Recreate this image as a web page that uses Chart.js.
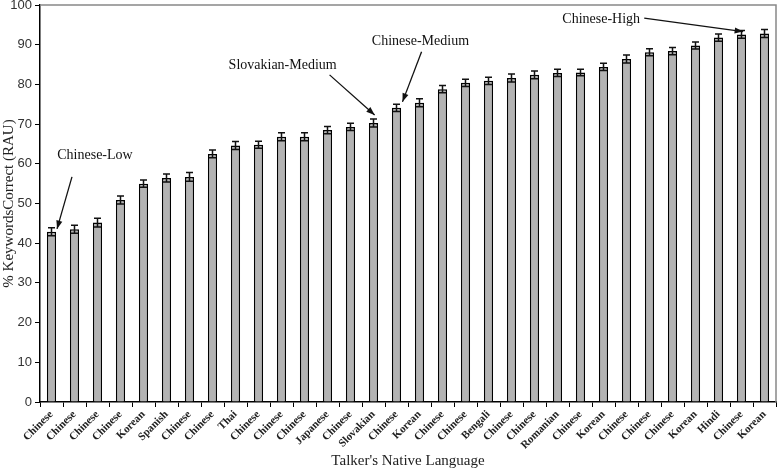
<!DOCTYPE html>
<html>
<head>
<meta charset="utf-8">
<script src="https://cdn.jsdelivr.net/npm/chart.js@4/dist/chart.umd.min.js"></script>
<style>
  body { margin: 0; background: #fff; }
  canvas { display: block; }
</style>
</head>
<body>
<canvas id="keywordsChart" width="777" height="470"></canvas>
<script>
const languages = [
  'Chinese', 'Chinese', 'Chinese', 'Chinese', 'Korean', 'Spanish', 'Chinese', 'Chinese',
  'Thai', 'Chinese', 'Chinese', 'Chinese', 'Japanese', 'Chinese', 'Slovakian', 'Chinese',
  'Korean', 'Chinese', 'Chinese', 'Bengali', 'Chinese', 'Chinese', 'Romanian', 'Chinese',
  'Korean', 'Chinese', 'Chinese', 'Chinese', 'Korean', 'Hindi', 'Chinese', 'Korean'
];
const keywordsCorrect = [
  42.9, 43.5, 45.2, 50.9, 55.0, 56.4, 56.7, 62.5,
  64.6, 64.8, 66.8, 66.8, 68.5, 69.3, 70.3, 74.1,
  75.4, 78.8, 80.4, 80.9, 81.6, 82.4, 82.9, 83.0,
  84.4, 86.4, 88.1, 88.4, 89.8, 91.8, 92.6, 92.8
];
const stdErrors = [
  1.0, 1.0, 1.1, 1.0, 0.9, 1.0, 1.1, 1.0,
  1.0, 0.9, 1.0, 1.0, 0.9, 0.9, 1.0, 0.9,
  1.0, 0.9, 0.9, 0.9, 1.0, 1.0, 0.9, 0.8,
  0.9, 1.0, 0.9, 0.9, 0.9, 0.9, 1.0, 1.0
];
const yTicks = [0, 10, 20, 30, 40, 50, 60, 70, 80, 90, 100];

// callouts: text position and arrow, in (category index, value) units
const callouts = [
  { text: 'Chinese-Low', at: [1.89, 62.2], from: [0.89, 56.7], to: [0.24, 43.6] },
  { text: 'Slovakian-Medium', at: [10.05, 84.9], from: [12.09, 82.4], to: [14.05, 72.3] },
  { text: 'Chinese-Medium', at: [16.04, 90.9], from: [16.09, 88.2], to: [15.26, 75.6] },
  { text: 'Chinese-High', at: [23.9, 96.5], from: [25.77, 96.7], to: [30.07, 93.3] }
];

const serif = '"Liberation Serif", "Times New Roman", serif';

const errorBars = {
  id: 'errorBars',
  afterDatasetsDraw(chart) {
    const ctx = chart.ctx;
    const x = chart.scales.x, y = chart.scales.y;
    ctx.save();
    ctx.strokeStyle = '#111';
    ctx.lineWidth = 1.5;
    keywordsCorrect.forEach((v, i) => {
      const px = x.getPixelForValue(i);
      const top = y.getPixelForValue(v + stdErrors[i]);
      const bot = y.getPixelForValue(v - stdErrors[i]);
      ctx.beginPath();
      ctx.moveTo(px, top); ctx.lineTo(px, bot);
      ctx.moveTo(px - 3.5, top); ctx.lineTo(px + 3.5, top);
      ctx.moveTo(px - 3.5, bot); ctx.lineTo(px + 3.5, bot);
      ctx.stroke();
    });
    ctx.restore();
  }
};

const frameAndCallouts = {
  id: 'frameAndCallouts',
  afterDraw(chart) {
    const ctx = chart.ctx;
    const a = chart.chartArea;
    const x = chart.scales.x, y = chart.scales.y;
    ctx.save();
    // grey frame on top and right
    ctx.strokeStyle = '#888';
    ctx.lineWidth = 1.5;
    ctx.beginPath();
    ctx.moveTo(a.left, a.top); ctx.lineTo(a.right, a.top); ctx.lineTo(a.right, a.bottom);
    ctx.stroke();

    ctx.font = '14px ' + serif;
    ctx.fillStyle = '#111';
    ctx.textAlign = 'center';
    ctx.textBaseline = 'middle';
    callouts.forEach(c => {
      ctx.fillText(c.text, x.getPixelForValue(c.at[0]), y.getPixelForValue(c.at[1]));
      const x1 = x.getPixelForValue(c.from[0]), y1 = y.getPixelForValue(c.from[1]);
      const x2 = x.getPixelForValue(c.to[0]), y2 = y.getPixelForValue(c.to[1]);
      ctx.strokeStyle = '#111';
      ctx.lineWidth = 1.3;
      ctx.beginPath();
      ctx.moveTo(x1, y1); ctx.lineTo(x2, y2);
      ctx.stroke();
      const ang = Math.atan2(y2 - y1, x2 - x1);
      ctx.beginPath();
      ctx.moveTo(x2, y2);
      ctx.lineTo(x2 - 9 * Math.cos(ang - 0.35), y2 - 9 * Math.sin(ang - 0.35));
      ctx.lineTo(x2 - 9 * Math.cos(ang + 0.35), y2 - 9 * Math.sin(ang + 0.35));
      ctx.closePath();
      ctx.fill();
    });
    ctx.restore();
  }
};

new Chart(document.getElementById('keywordsChart'), {
  type: 'bar',
  data: {
    labels: languages,
    datasets: [{
      label: '% Keywords Correct',
      data: keywordsCorrect,
      backgroundColor: '#b3b3b3',
      borderColor: '#000',
      borderWidth: 1.5,
      borderSkipped: 'bottom',
      barPercentage: 0.4,
      categoryPercentage: 1.0
    }]
  },
  options: {
    responsive: false,
    animation: false,
    devicePixelRatio: 1,
    layout: { padding: { top: 5, right: 1, left: 0, bottom: 0 } },
    plugins: {
      legend: { display: false },
      tooltip: { enabled: false }
    },
    scales: {
      x: {
        grid: { display: true, drawOnChartArea: false, offset: true, tickLength: 5, color: '#000', lineWidth: 1 },
        border: { color: '#000', width: 1.5 },
        ticks: {
          autoSkip: false, maxRotation: 45, minRotation: 45,
          color: '#222', padding: 1,
          font: { family: serif, size: 11, weight: 'bold' }
        },
        title: {
          display: true, text: "Talker's Native Language",
          color: '#222', padding: { top: 0, bottom: 0 },
          font: { family: serif, size: 15 }
        },
        afterFit(scale) { scale.height = 68; }
      },
      y: {
        min: 0, max: 100,
        afterBuildTicks(scale) { scale.ticks = yTicks.map(v => ({ value: v })); },
        grid: { display: true, drawOnChartArea: false, tickLength: 5, color: '#000', lineWidth: 1 },
        border: { color: '#000', width: 1.5 },
        ticks: {
          color: '#333', padding: 3,
          font: { family: '"Liberation Sans", Arial, sans-serif', size: 13 }
        },
        title: {
          display: true, text: '% KeywordsCorrect (RAU)',
          color: '#222', padding: { top: 0, bottom: 0 },
          font: { family: serif, size: 15 }
        },
        afterFit(scale) {
          scale.width = 40;
          scale.paddingTop = 0;
          scale.paddingBottom = 0;
        }
      }
    }
  },
  plugins: [errorBars, frameAndCallouts]
});
</script>
</body>
</html>
